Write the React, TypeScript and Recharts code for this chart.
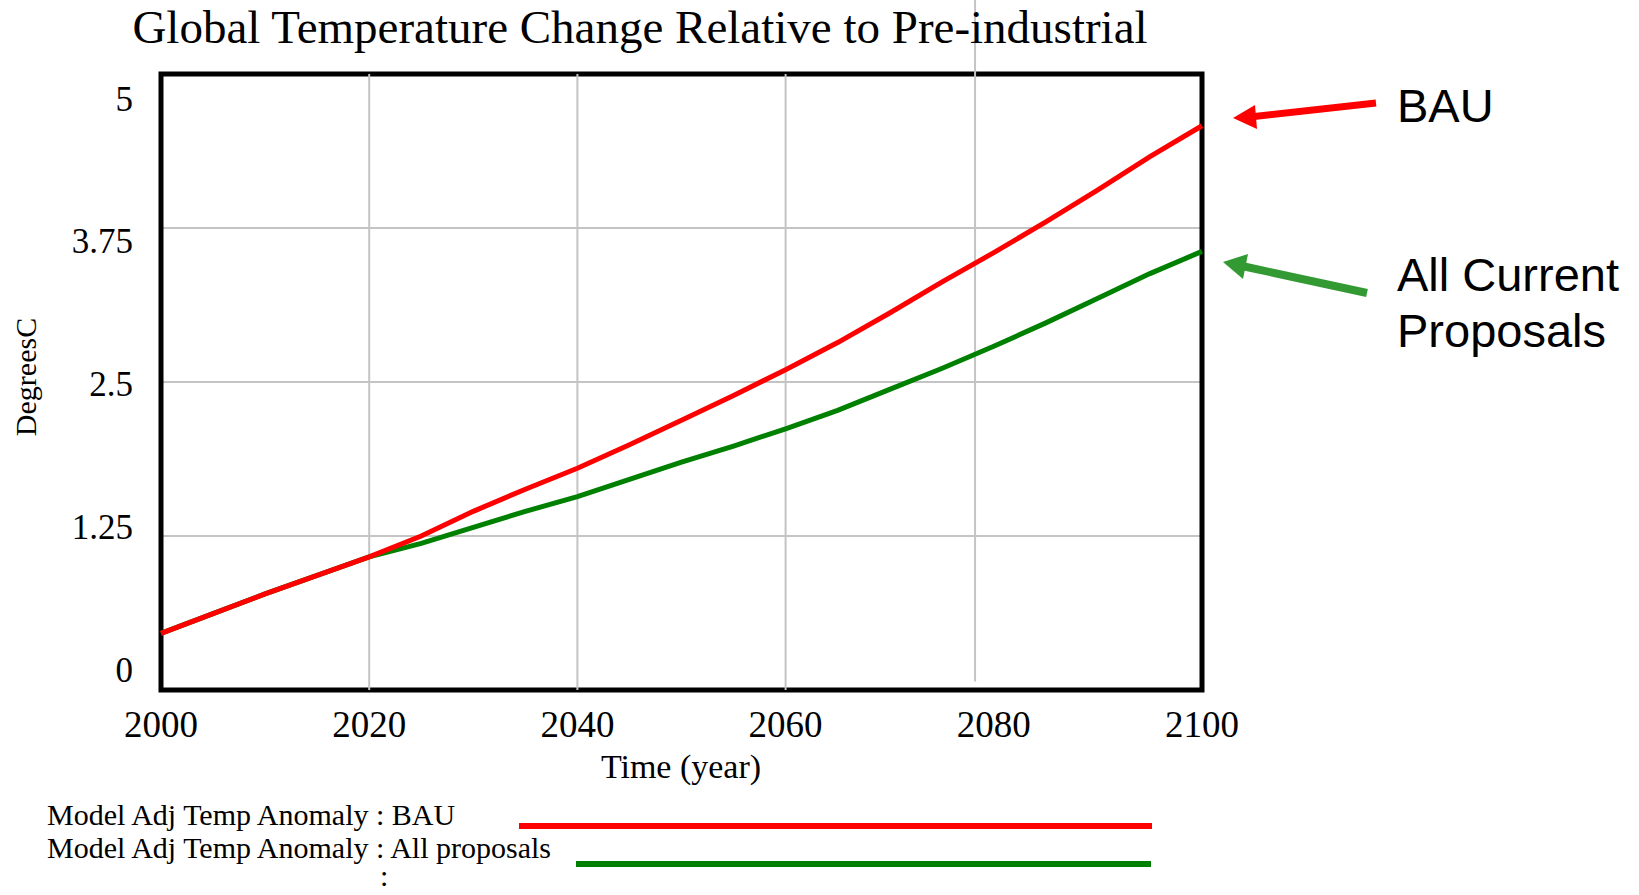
import React from "react";
import {
  CartesianGrid,
  LineChart,
  Line,
  ReferenceArea,
  ReferenceLine,
  XAxis,
  YAxis,
} from "recharts";

// values, every 5 years
const years = [
  2000, 2005, 2010, 2015, 2020, 2025, 2030, 2035, 2040, 2045, 2050, 2055, 2060, 2065,
  2070, 2075, 2080, 2085, 2090, 2095, 2100,
];
const bauTemp = [
  0.46, 0.62, 0.78, 0.93, 1.08, 1.25, 1.45, 1.63, 1.8, 1.99, 2.19, 2.39, 2.6, 2.82,
  3.06, 3.31, 3.55, 3.8, 4.06, 4.33, 4.58,
];
const proposalsTemp = [
  0.46, 0.62, 0.78, 0.93, 1.08, 1.19, 1.32, 1.45, 1.57, 1.71, 1.85, 1.98, 2.12, 2.27,
  2.44, 2.61, 2.79, 2.98, 3.18, 3.38, 3.56,
];
const xTicks = [2000, 2020, 2040, 2060, 2080, 2100];
const yTicks = [0, 1.25, 2.5, 3.75, 5];
const gridYears = [2020, 2040, 2060];

const seriesNames = {
  bau: "Model Adj Temp Anomaly : BAU",
  proposals: "Model Adj Temp Anomaly : All proposals",
};

const data = years.map((year, i) => ({
  year,
  bau: bauTemp[i],
  proposals: proposalsTemp[i],
}));

const SERIF = '"Liberation Serif", "Times New Roman", serif';
const SANS = '"Liberation Sans", Arial, sans-serif';
const RED = "#ff0000";
const GREEN = "#008000";
const GRID = "#c4c4c4";

function XTick(props: any) {
  const { x, y, payload } = props;
  return (
    <text x={x} y={y} textAnchor="middle" fontFamily={SERIF} fontSize={37} fill="#000">
      {payload.value}
    </text>
  );
}

function YTick(props: any) {
  const { x, y, payload } = props;
  // Vensim spreads its y labels a bit, the top one sits lower, the bottom one higher
  const shift = 2 + (payload.value - 2.5) * 9 + 12;
  return (
    <text x={x} y={y + shift} textAnchor="end" fontFamily={SERIF} fontSize={35} fill="#000">
      {payload.value}
    </text>
  );
}

export default function App() {
  return (
    <div style={{ position: "absolute", left: 0, top: 0, width: 1639, height: 895, background: "#fff" }}>
      <LineChart
        width={1639}
        height={895}
        data={data}
        margin={{ top: 74, right: 437, bottom: 105, left: 61 }}
      >
        <CartesianGrid vertical={false} stroke={GRID} strokeWidth={2} />
        {gridYears.map((g) => (
          <ReferenceLine key={g} x={g} stroke={GRID} strokeWidth={2} />
        ))}
        <ReferenceLine
          segment={[
            { x: 2078.2, y: 0.07 },
            { x: 2078.2, y: 5.6 },
          ]}
          stroke={GRID}
          strokeWidth={2}
          ifOverflow="visible"
        />
        <XAxis
          dataKey="year"
          type="number"
          domain={[2000, 2100]}
          ticks={xTicks}
          height={100}
          axisLine={false}
          tickLine={false}
          tickSize={0}
          tickMargin={47}
          tick={<XTick />}
          interval={0}
        />
        <YAxis
          type="number"
          domain={[0, 5]}
          ticks={yTicks}
          width={100}
          axisLine={false}
          tickLine={false}
          tickSize={0}
          tickMargin={28}
          tick={<YTick />}
          interval={0}
        />
        <Line
          type="linear"
          dataKey="proposals"
          name={seriesNames.proposals}
          stroke={GREEN}
          strokeWidth={5}
          dot={false}
          isAnimationActive={false}
        />
        <Line
          type="linear"
          dataKey="bau"
          name={seriesNames.bau}
          stroke={RED}
          strokeWidth={5}
          dot={false}
          isAnimationActive={false}
        />
        <ReferenceArea x1={2000} x2={2100} y1={0} y2={5} fill="none" stroke="#000" strokeWidth={5} />
      </LineChart>

      <svg
        width={1639}
        height={895}
        style={{ position: "absolute", left: 0, top: 0, pointerEvents: "none" }}
      >
        <text x={640} y={43} textAnchor="middle" fontFamily={SERIF} fontSize={47} fill="#000">
          Global Temperature Change Relative to Pre-industrial
        </text>
        <text
          transform="translate(36 377) rotate(-90)"
          textAnchor="middle"
          fontFamily={SERIF}
          fontSize={30}
          fill="#000"
        >
          DegreesC
        </text>
        <text x={681} y={778} textAnchor="middle" fontFamily={SERIF} fontSize={34} fill="#000">
          Time (year)
        </text>

        {/* legend */}
        <g fontFamily={SERIF} fontSize={30} fill="#000">
          <text x={47} y={825}>{seriesNames.bau}</text>
          <text x={47} y={858}>{seriesNames.proposals}</text>
          <text x={380} y={886}>:</text>
        </g>
        <line x1={519} y1={826} x2={1152} y2={826} stroke={RED} strokeWidth={6} />
        <line x1={576} y1={864} x2={1151} y2={864} stroke={GREEN} strokeWidth={6} />

        {/* annotations */}
        <line x1={1376} y1={103} x2={1250} y2={117} stroke={RED} strokeWidth={7} />
        <polygon points="1233,118 1255,105 1257,129" fill={RED} />
        <text x={1397} y={122} fontFamily={SANS} fontSize={47} fill="#000">
          BAU
        </text>

        <line x1={1367} y1={293} x2={1242} y2={266} stroke="#339933" strokeWidth={8} />
        <polygon points="1223,262 1248,254 1243,279" fill="#339933" />
        <text x={1397} y={291} fontFamily={SANS} fontSize={47} fill="#000">
          All Current
        </text>
        <text x={1397} y={347} fontFamily={SANS} fontSize={47} fill="#000">
          Proposals
        </text>
      </svg>
    </div>
  );
}
